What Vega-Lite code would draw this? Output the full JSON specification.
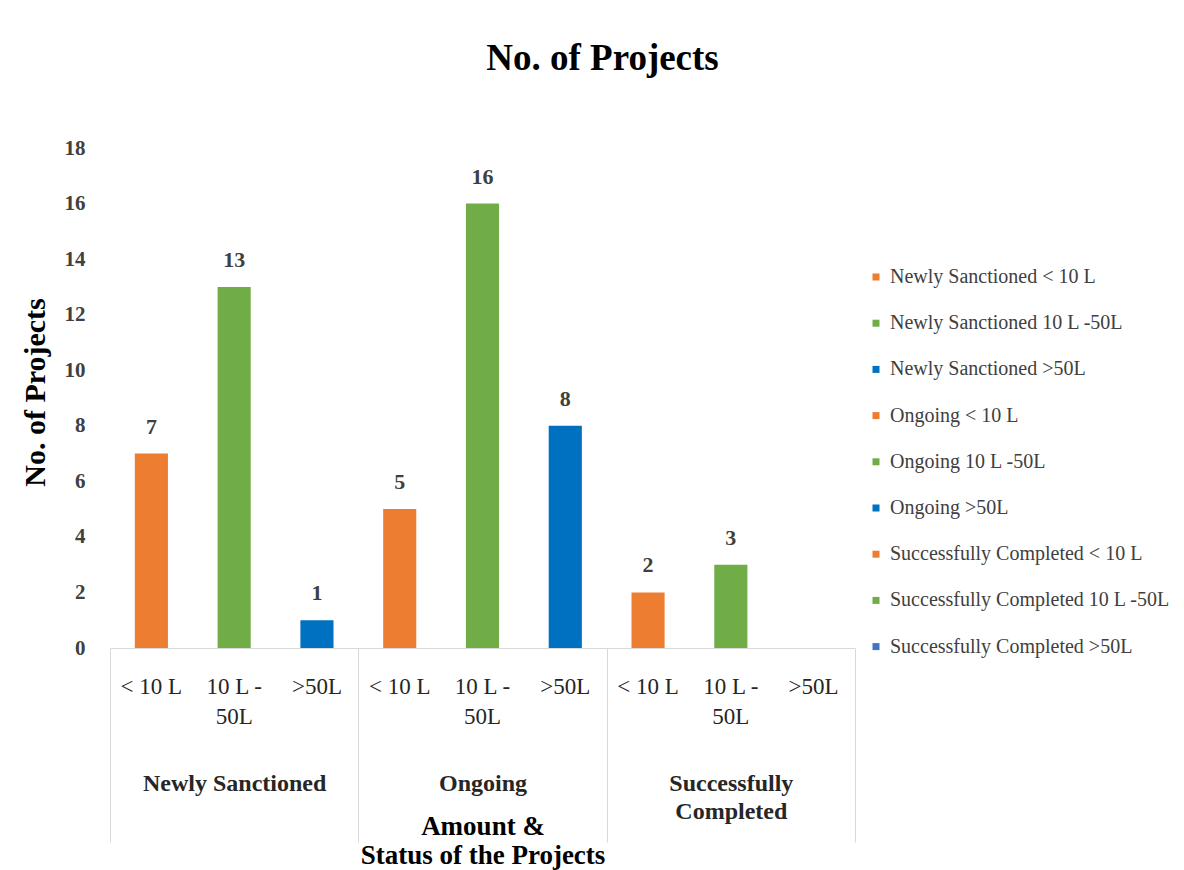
{
  "$schema": "https://vega.github.io/schema/vega-lite/v6.json",
  "width": 745,
  "height": 500,
  "autosize": {"type": "none"},
  "padding": {"left": 110, "top": 148, "right": 329, "bottom": 222},
  "background": "white",
  "title": {
    "text": "No. of Projects",
    "font": "Liberation Serif",
    "fontSize": 37,
    "fontWeight": "bold",
    "color": "#000000",
    "anchor": "middle",
    "dx": 120,
    "offset": 59
  },
  "data": {
    "values": [
      {"group": "Newly Sanctioned", "series": "Newly Sanctioned < 10 L", "value": 7},
      {"group": "Newly Sanctioned", "series": "Newly Sanctioned 10 L -50L", "value": 13},
      {"group": "Newly Sanctioned", "series": "Newly Sanctioned >50L", "value": 1},
      {"group": "Ongoing", "series": "Ongoing < 10 L", "value": 5},
      {"group": "Ongoing", "series": "Ongoing 10 L -50L", "value": 16},
      {"group": "Ongoing", "series": "Ongoing >50L", "value": 8},
      {"group": "Successfully Completed", "series": "Successfully Completed < 10 L", "value": 2},
      {"group": "Successfully Completed", "series": "Successfully Completed 10 L -50L", "value": 3},
      {"group": "Successfully Completed", "series": "Successfully Completed >50L", "value": 0}
    ]
  },
  "layer": [
    {
      "layer": [
        {
          "mark": {"type": "bar"},
          "encoding": {
            "x": {
              "field": "series",
              "type": "nominal",
              "sort": null,
              "scale": {"paddingInner": 0.6, "paddingOuter": 0.3},
              "axis": {
                "orient": "bottom",
                "title": null,
                "labelAngle": 0,
                "domain": true,
                "domainColor": "#D9D9D9",
                "domainWidth": 1,
                "ticks": false,
                "labelFont": "Liberation Serif",
                "labelFontSize": 23,
                "labelColor": "#262626",
                "labelPadding": 27,
                "labelLineHeight": 30,
                "labelBaseline": "top",
                "labelLimit": 200,
                "labelExpr": "(datum.label == 'Newly Sanctioned < 10 L' || datum.label == 'Ongoing < 10 L' || datum.label == 'Successfully Completed < 10 L') ? '< 10 L' : ((datum.label == 'Newly Sanctioned 10 L -50L' || datum.label == 'Ongoing 10 L -50L' || datum.label == 'Successfully Completed 10 L -50L') ? ['10 L -', '50L'] : '>50L')"
              }
            },
            "y": {
              "field": "value",
              "type": "quantitative",
              "scale": {"domain": [0, 18]},
              "axis": {
                "title": "No. of Projects",
                "values": [0, 2, 4, 6, 8, 10, 12, 14, 16, 18],
                "grid": false,
                "domain": false,
                "ticks": false,
                "labelFont": "Liberation Serif",
                "labelFontSize": 21,
                "labelFontWeight": "bold",
                "labelColor": "#404040",
                "labelPadding": 25,
                "titleFont": "Liberation Serif",
                "titleFontSize": 30,
                "titleFontWeight": "bold",
                "titleColor": "#000000",
                "titleX": -75,
                "titleY": 244,
                "titleAlign": "center",
                "titleBaseline": "middle",
                "titleAngle": -90
              }
            },
            "color": {
              "field": "series",
              "type": "nominal",
              "sort": null,
              "scale": {
                "domain": [
                  "Newly Sanctioned < 10 L",
                  "Newly Sanctioned 10 L -50L",
                  "Newly Sanctioned >50L",
                  "Ongoing < 10 L",
                  "Ongoing 10 L -50L",
                  "Ongoing >50L",
                  "Successfully Completed < 10 L",
                  "Successfully Completed 10 L -50L",
                  "Successfully Completed >50L"
                ],
                "range": ["#ED7D31", "#70AD47", "#0070C0", "#ED7D31", "#70AD47", "#0070C0", "#ED7D31", "#70AD47", "#4472C4"]
              },
              "legend": {
                "orient": "none",
                "legendX": 756,
                "legendY": 119,
                "title": null,
                "padding": 0,
                "symbolType": "square",
                "symbolSize": 49,
                "symbolStrokeWidth": 0,
                "labelFont": "Liberation Serif",
                "labelFontSize": 20,
                "labelColor": "#404040",
                "labelOffset": 4,
                "labelLimit": 400,
                "rowPadding": 26.2
              }
            }
          }
        },
        {
          "mark": {"type": "text", "font": "Liberation Serif", "fontSize": 22, "fontWeight": "bold", "color": "#404040", "baseline": "bottom", "dy": -15},
          "transform": [{"filter": "datum.value > 0"}],
          "encoding": {
            "x": {"field": "series", "type": "nominal", "sort": null},
            "y": {"field": "value", "type": "quantitative"},
            "text": {"field": "value", "type": "quantitative"}
          }
        }
      ]
    },
    {
      "mark": {"type": "tick", "opacity": 0},
      "encoding": {
        "x": {
          "field": "group",
          "type": "nominal",
          "sort": null,
          "scale": {"paddingInner": 0, "paddingOuter": 0},
          "axis": {
            "orient": "bottom",
            "labelAngle": 0,
            "domain": false,
            "ticks": true,
            "tickBand": "extent",
            "tickSize": 194,
            "tickColor": "#D9D9D9",
            "tickWidth": 1,
            "labelFont": "Liberation Serif",
            "labelFontSize": 24,
            "labelFontWeight": "bold",
            "labelColor": "#262626",
            "labelPadding": -71,
            "labelBaseline": "top",
            "labelLineHeight": 28,
            "labelLimit": 300,
            "labelExpr": "datum.label == 'Successfully Completed' ? ['Successfully', 'Completed'] : datum.label",
            "title": ["Amount &", "Status of the Projects"],
            "titleFont": "Liberation Serif",
            "titleFontSize": 27,
            "titleFontWeight": "bold",
            "titleColor": "#000000",
            "titleBaseline": "top",
            "titleY": 165,
            "titleLineHeight": 29
          }
        }
      }
    }
  ],
  "resolve": {"scale": {"x": "independent"}},
  "config": {
    "view": {"stroke": null}
  }
}
